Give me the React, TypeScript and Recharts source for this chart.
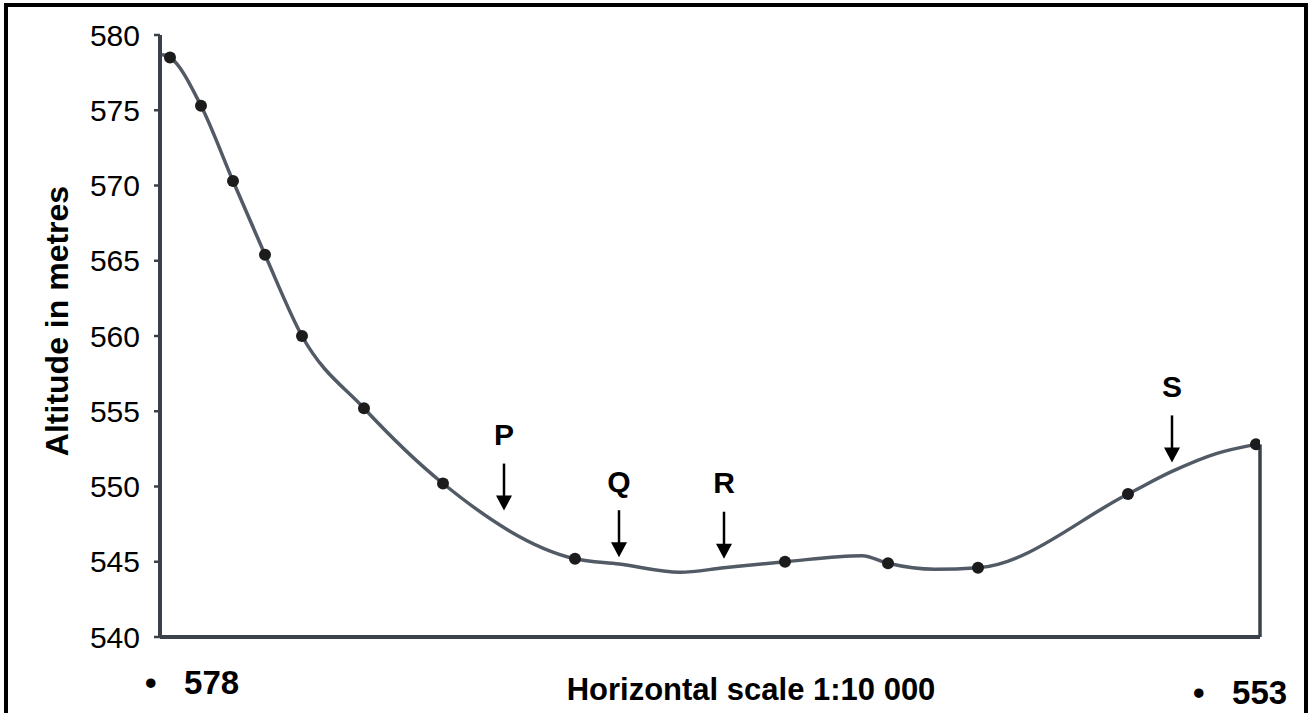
import { ComposedChart, Line, Scatter, XAxis, YAxis, ReferenceLine } from 'recharts';

// profile: distance along section (axis units) and altitude (m)
const distance = [2, 10, 41, 73, 105, 142, 204, 283, 415, 459, 520, 564, 625, 702, 728, 775, 818, 968, 1012, 1057, 1096];
const altitude = [578.7, 578.5, 575.3, 570.3, 565.4, 560.0, 555.2, 550.2, 545.2, 544.85, 544.3, 544.6, 545.0, 545.4, 544.9, 544.5, 544.6, 549.5, 551.0, 552.2, 552.8];
// which points carry a plotted dot
const spotHeight = [false, true, true, true, true, true, true, true, true, false, false, false, true, false, true, false, true, true, false, false, true];

// arrow annotations P, Q, R, S (tip position)
const markerLabels = ['P', 'Q', 'R', 'S'];
const markerDistance = [344, 459, 564, 1012];
const markerAltitude = [548.4, 545.3, 545.2, 551.6];

const yTicks = [540, 545, 550, 555, 560, 565, 570, 575, 580];
const endLabels = ['578', '553'];

const profile = distance.map((x, i) => ({ x, alt: altitude[i], spot: spotHeight[i] }));
const markers = markerLabels.map((label, i) => ({ label, x: markerDistance[i], alt: markerAltitude[i] }));

const FONT = '"Liberation Sans", Arial, sans-serif';
const AXIS = '#3b414a';

const SpotDot = (props: any) => {
  const { cx, cy, payload, index } = props;
  if (!payload.spot) return <g key={`d${index}`} />;
  return <circle key={`d${index}`} cx={cx} cy={cy} r={6} fill="#1c1c1c" />;
};

const ArrowMark = (props: any) => {
  const { cx, cy, payload } = props;
  return (
    <g>
      <line x1={cx} y1={cy - 47} x2={cx} y2={cy - 12} stroke="#000" strokeWidth={2.5} />
      <polygon points={`${cx - 8},${cy - 15} ${cx + 8},${cy - 15} ${cx},${cy}`} fill="#000" />
      <text x={cx} y={cy - 76} textAnchor="middle" dominantBaseline="central" fontWeight="bold" fontSize={30} fontFamily={FONT}>
        {payload.label}
      </text>
    </g>
  );
};

export default function App() {
  const last = profile[profile.length - 1];
  return (
    <div style={{ position: 'fixed', left: 0, top: 0, width: 1309, height: 713, overflow: 'hidden', background: '#fff', fontFamily: FONT }}>
      <div style={{ position: 'absolute', left: 4, top: 3, width: 1304, height: 720, border: '4px solid #000', borderBottom: 'none', boxSizing: 'border-box' }} />
      <div style={{ position: 'absolute', left: 0, top: 0 }}>
        <ComposedChart width={1309} height={713} margin={{ top: 35, right: 49, bottom: 46, left: 0 }}>
          <XAxis
            type="number"
            dataKey="x"
            domain={[0, 1100]}
            allowDataOverflow
            tick={false}
            tickLine={false}
            axisLine={{ stroke: AXIS, strokeWidth: 4 }}
          />
          <YAxis
            type="number"
            domain={[540, 580]}
            ticks={yTicks}
            allowDataOverflow
            width={160}
            tickSize={6}
            tickMargin={14}
            axisLine={{ stroke: AXIS, strokeWidth: 4 }}
            tickLine={{ stroke: AXIS, strokeWidth: 2.5 }}
            tick={{ fill: '#000', fontSize: 30, fontFamily: FONT }}
          />
          <ReferenceLine
            segment={[{ x: 1100, y: 540 }, { x: 1100, y: last.alt }]}
            stroke={AXIS}
            strokeWidth={3.5}
            ifOverflow="visible"
          />
          <Line
            data={profile}
            dataKey="alt"
            type="monotone"
            stroke="#525a66"
            strokeWidth={3.5}
            dot={SpotDot}
            activeDot={false}
            isAnimationActive={false}
          />
          <Scatter data={markers} dataKey="alt" shape={ArrowMark} isAnimationActive={false} />
        </ComposedChart>
      </div>
      <div
        style={{
          position: 'absolute',
          left: 57,
          top: 321,
          transform: 'translate(-50%, -50%) rotate(-90deg)',
          whiteSpace: 'nowrap',
          fontWeight: 'bold',
          fontSize: 32,
          lineHeight: 1,
        }}
      >
        Altitude in metres
      </div>
      <div style={{ position: 'absolute', left: 145, top: 666, fontWeight: 'bold', fontSize: 33, lineHeight: '34px', whiteSpace: 'pre' }}>
        {'•   ' + endLabels[0]}
      </div>
      <div style={{ position: 'absolute', left: 751, top: 674, transform: 'translateX(-50%)', fontWeight: 'bold', fontSize: 31, lineHeight: '32px', whiteSpace: 'nowrap' }}>
        Horizontal scale 1:10 000
      </div>
      <div style={{ position: 'absolute', left: 1193, top: 676, fontWeight: 'bold', fontSize: 33, lineHeight: '34px', whiteSpace: 'pre' }}>
        {'•   ' + endLabels[1]}
      </div>
    </div>
  );
}
